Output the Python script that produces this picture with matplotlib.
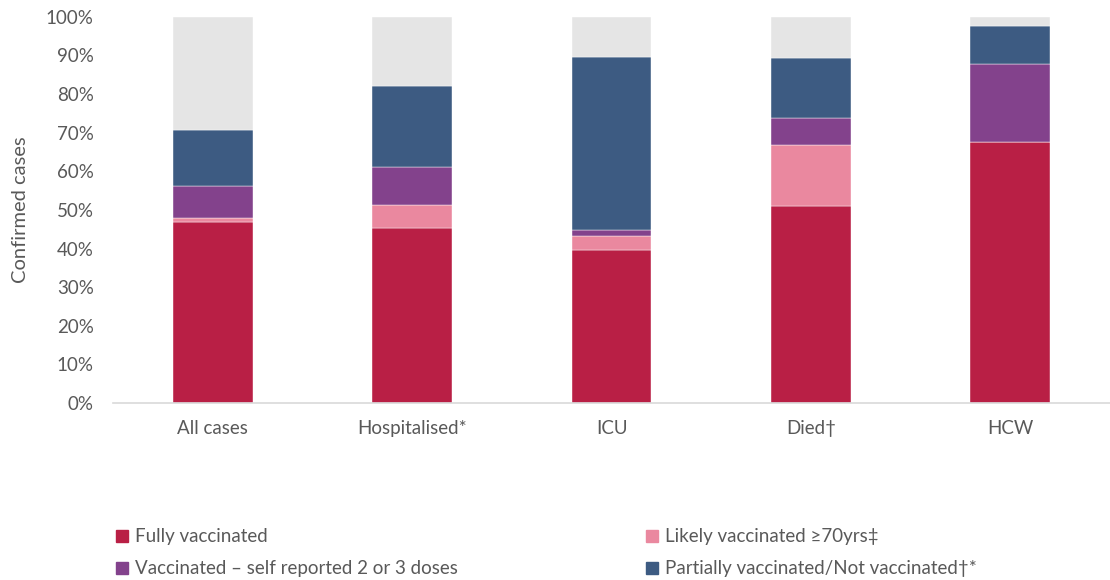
import matplotlib
matplotlib.use("Agg")
import matplotlib.pyplot as plt
from matplotlib.patches import Patch
import numpy as np

categories = ["All cases", "Hospitalised*", "ICU", "Died\u2020", "HCW"]
fully = [47.0, 45.4, 39.7, 51.1, 67.7]
likely70 = [0.8, 5.8, 3.6, 15.8, 0.0]
self_reported = [8.3, 9.9, 1.5, 6.9, 20.0]
partial_not = [14.6, 21.0, 44.8, 15.6, 9.8]
labels = ["Fully vaccinated", "Likely vaccinated \u226570yrs\u2021",
          "Vaccinated \u2013 self reported 2 or 3 doses",
          "Partially vaccinated/Not vaccinated\u2020*"]
colors = ["#B91F45", "#EA889F", "#83428C", "#3D5B82"]
grey = "#E5E5E5"

plt.rcParams['font.family'] = ['Lato', 'DejaVu Sans']

fig = plt.figure(figsize=(11.1, 5.8), dpi=100)
ax = fig.add_axes([0.102, 0.305, 0.898, 0.666])

x = np.arange(len(categories))
series = [fully, likely70, self_reported, partial_not]
bottom = np.zeros(len(categories))
for vals, c in zip(series, colors):
    ax.bar(x, vals, bottom=bottom, width=0.4, color=c, edgecolor='white', linewidth=0.3)
    bottom += np.array(vals)
ax.bar(x, 100 - bottom, bottom=bottom, width=0.4, color=grey, edgecolor='white', linewidth=0.3)

ax.set_xlim(-0.5, 4.5)
ax.set_ylim(0, 100)
ax.set_yticks(np.arange(0, 101, 10))
ax.set_yticklabels([f"{v}%" for v in range(0, 101, 10)], fontsize=13.5, color='#595959')
ax.set_xticks(x)
ax.set_xticklabels(categories, fontsize=13.5, color='#595959')
ax.tick_params(axis='both', length=0)
ax.tick_params(axis='x', pad=12)
ax.tick_params(axis='y', pad=14)
for s in ['top', 'right', 'left']:
    ax.spines[s].set_visible(False)
ax.spines['bottom'].set_color('#D9D9D9')
ax.spines['bottom'].set_linewidth(1.2)
ax.set_ylabel("Confirmed cases", fontsize=14.5, color='#595959', labelpad=12)

handles = [Patch(color=c) for c in colors]
order = [0, 2, 1, 3]
fig.legend([handles[i] for i in order], [labels[i] for i in order],
           loc='upper left', bbox_to_anchor=(0.089, 0.118), ncol=2, frameon=False,
           fontsize=13.5, handlelength=0.65, handleheight=0.65, handletextpad=0.4,
           columnspacing=10.0, labelspacing=0.8, labelcolor='#595959')

fig.savefig("out.png", dpi=100)
